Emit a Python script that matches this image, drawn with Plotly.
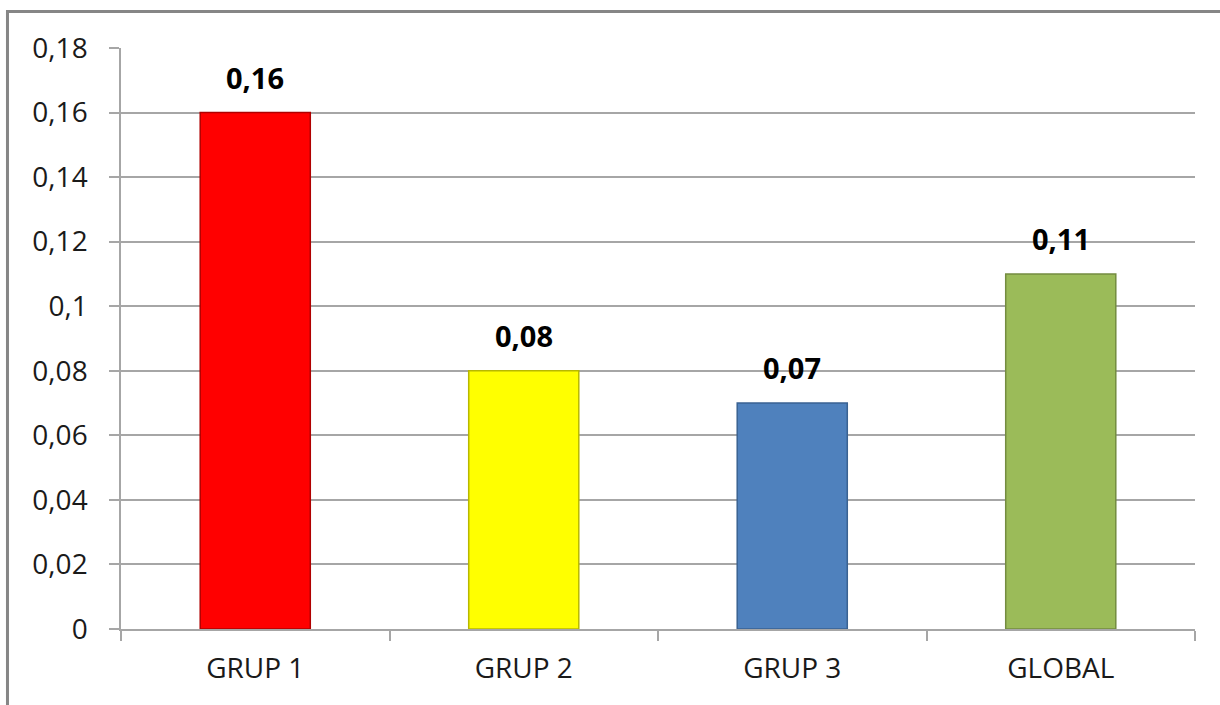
"""Bar chart - GRUP 1 / GRUP 2 / GRUP 3 / GLOBAL
"""

import plotly.graph_objects as go

# data
categories = ["GRUP 1", "GRUP 2", "GRUP 3", "GLOBAL"]
values = [0.16, 0.08, 0.07, 0.11]
value_labels = ["0,16", "0,08", "0,07", "0,11"]
bar_colors = ["#FF0000", "#FFFF00", "#4F81BD", "#9BBB59"]
edge_colors = ["#B00000", "#B8B800", "#3A6292", "#748C40"]

y_ticks = [0, 0.02, 0.04, 0.06, 0.08, 0.1, 0.12, 0.14, 0.16, 0.18]
y_tick_labels = ["0", "0,02", "0,04", "0,06", "0,08", "0,1", "0,12", "0,14", "0,16", "0,18"]


def main():
    fig = go.Figure()
    fig.add_trace(go.Bar(
        x=categories, y=values,
        width=0.41,
        marker=dict(color=bar_colors, line=dict(color=edge_colors, width=1.5)),
        hoverinfo="x+y",
    ))

    # etiquettes de valeur au-dessus des barres
    for cat, val, lab in zip(categories, values, value_labels):
        fig.add_annotation(
            x=cat, y=val, text=lab, showarrow=False,
            yanchor="bottom", yshift=14,
            font=dict(family="Open Sans", size=29, color="#000000", weight="bold"),
        )

    grid = "#A6A6A6"
    fig.update_layout(
        width=1220, height=705,
        margin=dict(l=121, r=25, t=48, b=76),
        paper_bgcolor="white", plot_bgcolor="white",
        showlegend=False,
        font=dict(family="Open Sans", size=28, color="#1a1a1a"),
        xaxis=dict(
            type="category", showgrid=False,
            showline=True, linecolor=grid, linewidth=1.5,
            ticks="outside", tickson="boundaries", ticklen=10,
            tickcolor=grid, tickwidth=1.5,
            tickfont=dict(size=28), ticklabelstandoff=14,
        ),
        yaxis=dict(
            range=[0, 0.18], tickvals=y_ticks, ticktext=y_tick_labels,
            showgrid=True, gridcolor=grid, gridwidth=1.5,
            showline=True, linecolor=grid, linewidth=1.5,
            ticks="outside", ticklen=10, tickcolor=grid, tickwidth=1.5,
            zeroline=False, tickfont=dict(size=28), ticklabelstandoff=16,
        ),
        shapes=[dict(
            type="rect", xref="paper", yref="paper",
            x0=-0.1057, x1=1.1, y0=-0.2, y1=1.0628,
            line=dict(color="#868686", width=3), layer="below",
        )],
    )
    fig.write_html("out.html", config={"displayModeBar": False},
                   post_script="document.body.style.margin='0';")


if __name__ == "__main__":
    main()
